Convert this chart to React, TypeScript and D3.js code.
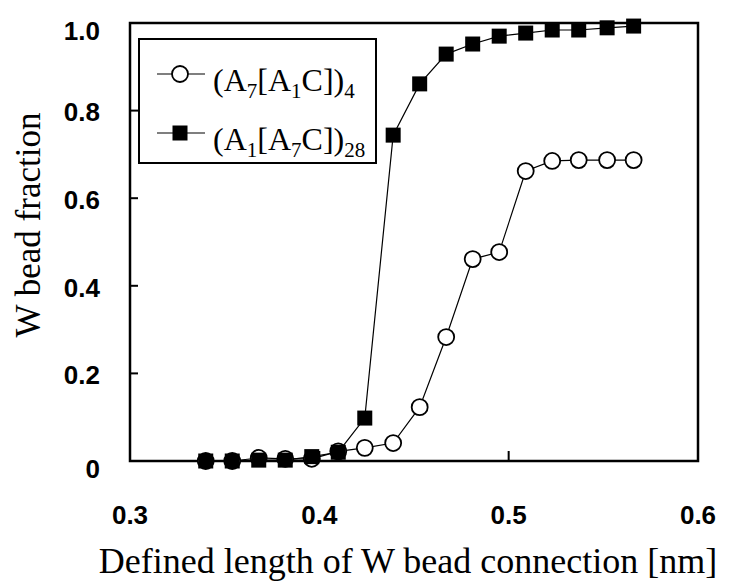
import React from "react";
import * as d3 from "d3";

const xValues = [0.340, 0.354, 0.368, 0.382, 0.396, 0.410, 0.424, 0.439, 0.453, 0.467, 0.481, 0.495, 0.509, 0.523, 0.537, 0.552, 0.566];
const circleSeries = [0, 0, 0.007, 0.005, 0.005, 0.022, 0.03, 0.041, 0.123, 0.283, 0.461, 0.477, 0.662, 0.685, 0.687, 0.687, 0.687];
const squareSeries = [0, 0, 0.002, 0.002, 0.01, 0.02, 0.098, 0.744, 0.861, 0.929, 0.952, 0.970, 0.977, 0.984, 0.984, 0.989, 0.993];
const xTicks = [0.3, 0.4, 0.5, 0.6];
const xTickLabels = ["0.3", "0.4", "0.5", "0.6"];
const yTicks = [0, 0.2, 0.4, 0.6, 0.8, 1.0];
const yTickLabels = ["0", "0.2", "0.4", "0.6", "0.8", "1.0"];
const xTitle = "Defined length of W bead connection [nm]";
const yTitle = "W bead fraction";

const W = 738, H = 581;
const L = 130, R = 698, T = 23, B = 461;

export default function App() {
  const x = d3.scaleLinear().domain([0.3, 0.6]).range([L, R]);
  const y = d3.scaleLinear().domain([0, 1]).range([B, T]);
  const line = d3.line<[number, number]>().x(d => x(d[0])).y(d => y(d[1]));
  const cData: [number, number][] = xValues.map((v, i) => [v, circleSeries[i]]);
  const sData: [number, number][] = xValues.map((v, i) => [v, squareSeries[i]]);
  const serif = "'Liberation Serif', 'Times New Roman', serif";
  const sans = "'Liberation Sans', Arial, sans-serif";
  const sq = 15;
  const cr = 8;
  return (
    <svg width={W} height={H} style={{ position: "absolute", left: 0, top: 0, background: "#fff" }}>
      <rect x={0} y={0} width={W} height={H} fill="#fff" />
      {/* ticks */}
      {yTicks.filter(t => t > 0 && t < 1).map(t => (
        <line key={"yt" + t} x1={L} x2={L + 8} y1={y(t)} y2={y(t)} stroke="#000" strokeWidth={2} />
      ))}
      {xTicks.filter(t => t > 0.3 && t < 0.6).map(t => (
        <line key={"xt" + t} x1={x(t)} x2={x(t)} y1={B} y2={B - 10} stroke="#000" strokeWidth={2} />
      ))}
      <rect x={L} y={T} width={R - L} height={B - T} fill="none" stroke="#000" strokeWidth={2.5} />
      {/* tick labels */}
      {yTicks.map((t, i) => (
        <text key={"yl" + t} x={100} y={y(t) + (t === 0 || t === 1 ? 10 : 4)} textAnchor="end" dominantBaseline="middle"
          fontFamily={sans} fontWeight="bold" fontSize={26}>{yTickLabels[i]}</text>
      ))}
      {xTicks.map((t, i) => (
        <text key={"xl" + t} x={x(t)} y={517} textAnchor="middle" dominantBaseline="middle"
          fontFamily={sans} fontWeight="bold" fontSize={26}>{xTickLabels[i]}</text>
      ))}
      {/* series lines */}
      <path d={line(cData) || ""} fill="none" stroke="#000" strokeWidth={1.2} />
      <path d={line(sData) || ""} fill="none" stroke="#000" strokeWidth={1.2} />
      {cData.map((d, i) => (
        <circle key={"c" + i} cx={x(d[0])} cy={y(d[1])} r={cr} fill="#fff" stroke="#000" strokeWidth={1.8} />
      ))}
      {sData.map((d, i) => (
        <rect key={"s" + i} x={x(d[0]) - sq / 2} y={y(d[1]) - sq / 2} width={sq} height={sq} fill="#000" />
      ))}
      {/* legend */}
      <rect x={139} y={39} width={237} height={124} fill="#fff" stroke="#000" strokeWidth={2} />
      <line x1={157} x2={205} y1={74} y2={74} stroke="#000" strokeWidth={1.2} />
      <circle cx={180} cy={74} r={cr} fill="#fff" stroke="#000" strokeWidth={1.8} />
      <text x={213} y={91} fontFamily={serif} fontSize={32}>
        (A<tspan fontSize={21} dy={7}>7</tspan><tspan dy={-7}>[A</tspan><tspan fontSize={21} dy={7}>1</tspan><tspan dy={-7}>C])</tspan><tspan fontSize={21} dy={7}>4</tspan>
      </text>
      <line x1={157} x2={205} y1={133} y2={133} stroke="#000" strokeWidth={1.2} />
      <rect x={180 - sq / 2} y={133 - sq / 2} width={sq} height={sq} fill="#000" />
      <text x={213} y={150} fontFamily={serif} fontSize={32}>
        (A<tspan fontSize={21} dy={7}>1</tspan><tspan dy={-7}>[A</tspan><tspan fontSize={21} dy={7}>7</tspan><tspan dy={-7}>C])</tspan><tspan fontSize={21} dy={7}>28</tspan>
      </text>
      {/* axis titles */}
      <text x={408} y={573} textAnchor="middle" fontFamily={serif} fontSize={36}>{xTitle}</text>
      <text transform={`translate(40,225) rotate(-90)`} textAnchor="middle" fontFamily={serif} fontSize={35}>{yTitle}</text>
    </svg>
  );
}
